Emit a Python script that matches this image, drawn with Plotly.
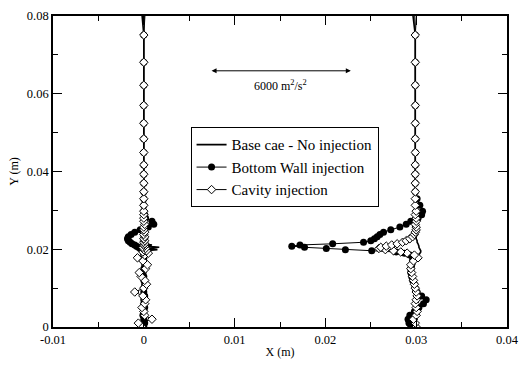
import plotly.graph_objects as go

# Mesh levels (m), bottom to top; last level lies just above the plotted range
y_grid = [0.0000, 0.0010, 0.0020, 0.0030, 0.0040, 0.0050, 0.0060, 0.0070, 0.0080, 0.0090,
          0.0100, 0.0110, 0.0120, 0.0130, 0.0140, 0.0150, 0.0160, 0.0170, 0.0178, 0.0185,
          0.0190, 0.0193, 0.0196, 0.0199, 0.0202, 0.0205, 0.0208, 0.0211, 0.0214, 0.0218,
          0.0222, 0.0227, 0.0232, 0.0238, 0.0244, 0.0250, 0.0257, 0.0264, 0.0272, 0.0280,
          0.0289, 0.0298, 0.0313, 0.0330, 0.0348, 0.0370, 0.0393, 0.0417, 0.0449, 0.0484,
          0.0524, 0.0570, 0.0622, 0.0681, 0.0751, 0.0830]

# Station x = 0
base_left = [0.0002, 0.0003, 0.0001, 0.0002, 0.0003, 0.0002, 0.0001, 0.0002, 0.0003, 0.0001,
             0.0002, 0.0001, 0.0002, 0.0001, 0.0002, 0.0003, 0.0001, 0.0002, 0.0003, 0.0002,
             0.0003, 0.0008, 0.0002, 0.0015, 0.0001, 0.0017, 0.0002, 0.0009, 0.0001, 0.0002,
             0.0001, 0.0001, 0.0000, 0.0001, 0.0000, 0.0001, 0.0000, 0.0000, 0.0001, 0.0000,
             0.0000, 0.0000, 0.0000, 0.0000, 0.0000, 0.0000, 0.0000, 0.0000, 0.0000, 0.0000,
             0.0000, 0.0000, 0.0000, 0.0000, 0.0000, -0.0003]
wall_left = [0.0000, 0.0001, 0.0000, -0.0001, 0.0000, 0.0001, 0.0000, 0.0000, 0.0001, 0.0000,
             0.0000, 0.0001, 0.0000, 0.0000, -0.0001, 0.0000, 0.0001, 0.0000, 0.0000, 0.0000,
             0.0000, 0.0001, 0.0000, -0.0002, -0.0004, -0.0006, -0.0008, -0.0010, -0.0013, -0.0015,
             -0.0017, -0.0018, -0.0017, -0.0014, -0.0010, -0.0004, 0.0005, 0.0011, 0.0009, 0.0002,
             0.0001, 0.0000, 0.0000, 0.0000, 0.0000, 0.0000, 0.0000, 0.0000, 0.0000, 0.0000,
             0.0000, 0.0000, 0.0000, 0.0000, 0.0000, 0.0002]
cavity_left = [-0.0002, -0.0006, 0.0009, 0.0001, 0.0000, -0.0002, 0.0001, 0.0002, -0.0001, -0.0010,
               0.0000, 0.0003, 0.0001, -0.0003, -0.0005, 0.0002, 0.0004, -0.0001, -0.0007, 0.0001,
               0.0005, -0.0001, 0.0003, 0.0000, 0.0002, -0.0001, 0.0001, 0.0000, 0.0001, 0.0000,
               0.0001, 0.0000, 0.0001, 0.0000, 0.0001, 0.0000, 0.0000, 0.0001, 0.0000, 0.0000,
               0.0000, 0.0000, 0.0000, 0.0000, 0.0000, 0.0000, 0.0000, 0.0000, 0.0000, 0.0000,
               0.0000, 0.0000, 0.0000, 0.0000, 0.0000, 0.0001]

# Station x = 0.03
base_right = [0.0300, 0.0299, 0.0300, 0.0300, 0.0301, 0.0300, 0.0300, 0.0300, 0.0300, 0.0299,
              0.0299, 0.0298, 0.0298, 0.0297, 0.0297, 0.0297, 0.0298, 0.0299, 0.0301, 0.0303,
              0.0304, 0.0305, 0.0305, 0.0304, 0.0304, 0.0303, 0.0303, 0.0302, 0.0302, 0.0301,
              0.0301, 0.0300, 0.0300, 0.0300, 0.0300, 0.0300, 0.0300, 0.0300, 0.0300, 0.0300,
              0.0300, 0.0300, 0.0300, 0.0300, 0.0299, 0.0299, 0.0299, 0.0299, 0.0299, 0.0299,
              0.0299, 0.0299, 0.0299, 0.0299, 0.0299, 0.0295]
wall_right = [0.0294, 0.0292, 0.0291, 0.0293, 0.0298, 0.0303, 0.0308, 0.0311, 0.0306, 0.0301,
              0.0299, 0.0298, 0.0296, 0.0295, 0.0294, 0.0294, 0.0295, 0.0296, 0.0296, 0.0293,
              0.0287, 0.0278, 0.0251, 0.0222, 0.0201, 0.0177, 0.0163, 0.0172, 0.0208, 0.0242,
              0.0250, 0.0254, 0.0257, 0.0260, 0.0264, 0.0272, 0.0282, 0.0289, 0.0294, 0.0302,
              0.0306, 0.0307, 0.0304, 0.0301, 0.0299, 0.0299, 0.0299, 0.0299, 0.0299, 0.0299,
              0.0299, 0.0299, 0.0299, 0.0299, 0.0299, 0.0301]
cavity_right = [0.0300, 0.0299, 0.0297, 0.0300, 0.0301, 0.0300, 0.0299, 0.0300, 0.0301, 0.0300,
                0.0299, 0.0298, 0.0297, 0.0296, 0.0295, 0.0294, 0.0294, 0.0297, 0.0302, 0.0298,
                0.0290, 0.0283, 0.0275, 0.0266, 0.0259, 0.0261, 0.0267, 0.0273, 0.0279, 0.0285,
                0.0289, 0.0293, 0.0296, 0.0298, 0.0299, 0.0300, 0.0300, 0.0299, 0.0300, 0.0300,
                0.0299, 0.0300, 0.0299, 0.0299, 0.0299, 0.0299, 0.0299, 0.0299, 0.0299, 0.0299,
                0.0299, 0.0299, 0.0299, 0.0299, 0.0299, 0.0298]

series_names = ["Base cae - No injection", "Bottom Wall injection", "Cavity injection"]

x_ticks = [-0.01, 0, 0.01, 0.02, 0.03, 0.04]
x_tick_text = ["-0.01", "0", "0.01", "0.02", "0.03", "0.04"]
y_ticks = [0, 0.02, 0.04, 0.06, 0.08]
y_tick_text = ["0", "0.02", "0.04", "0.06", "0.08"]

scale_label = "6000 m<sup>2</sup>/s<sup>2</sup>"

FONT = "Liberation Serif"


def join(left, right):
    return left + [None] + right, y_grid + [None] + y_grid


fig = go.Figure()

xb, yb = join(base_left, base_right)
fig.add_trace(go.Scatter(x=xb, y=yb, mode="lines", name=series_names[0],
                         line=dict(color="black", width=1.6)))

xw, yw = join(wall_left, wall_right)
fig.add_trace(go.Scatter(x=xw, y=yw, mode="lines+markers", name=series_names[1],
                         line=dict(color="black", width=1),
                         marker=dict(symbol="circle", size=7, color="black")))

xc, yc = join(cavity_left, cavity_right)
fig.add_trace(go.Scatter(x=xc, y=yc, mode="lines+markers", name=series_names[2],
                         line=dict(color="black", width=1),
                         marker=dict(symbol="diamond", size=6.5, color="white",
                                     line=dict(color="black", width=1))))

axis_common = dict(showline=True, linecolor="black", linewidth=1.6, mirror="ticks",
                   ticks="inside", ticklen=9, tickwidth=1, tickcolor="black",
                   showgrid=False, zeroline=False,
                   tickfont=dict(family=FONT, size=12.5, color="black"))

fig.update_xaxes(range=[-0.01, 0.04], tickvals=x_ticks, ticktext=x_tick_text,
                 minor=dict(ticks="inside", ticklen=5, dtick=0.005, tick0=0, tickcolor="black"),
                 title=dict(text="X (m)", font=dict(family=FONT, size=12, color="black"), standoff=2),
                 **axis_common)
fig.update_yaxes(range=[0, 0.08], tickvals=y_ticks, ticktext=y_tick_text,
                 minor=dict(ticks="inside", ticklen=5, dtick=0.01, tick0=0, tickcolor="black"),
                 title=dict(text="Y (m)", font=dict(family=FONT, size=12, color="black"), standoff=6),
                 **axis_common)

fig.add_annotation(x=0.0228, y=0.0659, ax=0.0073, ay=0.0659, xref="x", yref="y",
                   axref="x", ayref="y", text="", showarrow=True, arrowhead=2,
                   arrowside="end+start", arrowwidth=1, arrowsize=1, arrowcolor="black")
fig.add_annotation(x=0.0150, y=0.0622, xref="x", yref="y", text=scale_label,
                   showarrow=False, font=dict(family=FONT, size=12, color="black"))

fig.update_layout(
    width=528, height=366,
    margin=dict(l=53, r=17, t=9, b=33),
    paper_bgcolor="white", plot_bgcolor="white",
    font=dict(family=FONT, color="black"),
    legend=dict(x=0.303, y=0.642, xanchor="left", yanchor="top",
                bordercolor="black", borderwidth=1, bgcolor="white",
                font=dict(family=FONT, size=15, color="black"),
                tracegroupgap=0, itemwidth=30),
)

fig.write_html("out.html", config={"displayModeBar": False},
               post_script="document.body.style.margin='0';")
